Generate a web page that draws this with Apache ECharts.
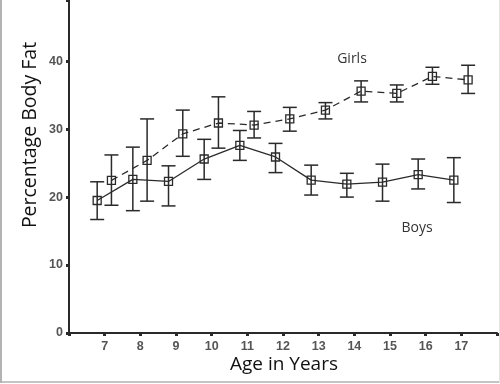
<!DOCTYPE html>
<html>
<head>
<meta charset="utf-8">
<script src="https://cdn.jsdelivr.net/npm/echarts@6/dist/echarts.min.js"></script>
<style>html,body{margin:0;padding:0;background:#fff;}#c{width:500px;height:384px;}</style>
</head>
<body>
<div id="c"></div>
<script>
var ages = [7, 8, 9, 10, 11, 12, 13, 14, 15, 16, 17];
var boysMean  = [19.5, 22.6, 22.3, 25.6, 27.6, 25.9, 22.5, 21.9, 22.2, 23.3, 22.5];
var boysUpper = [22.25, 27.35, 24.6, 28.5, 29.8, 27.9, 24.7, 23.5, 24.85, 25.6, 25.8];
var boysLower = [16.7, 18.0, 18.7, 22.6, 25.4, 23.6, 20.3, 20.0, 19.4, 21.2, 19.2];
var girlsMean  = [22.45, 25.4, 29.3, 30.9, 30.6, 31.5, 32.8, 35.6, 35.25, 37.75, 37.25];
var girlsUpper = [26.2, 31.5, 32.8, 34.75, 32.6, 33.2, 33.9, 37.1, 36.5, 39.1, 39.4];
var girlsLower = [18.8, 19.4, 26.0, 27.2, 28.7, 29.7, 31.5, 34.0, 34.0, 36.6, 35.25];
var yTicks = [0, 10, 20, 30, 40];
var boysOffset = -0.21, girlsOffset = 0.19;

var INK = '#2a2a2a';

function pts(mean, off) { return ages.map(function (a, i) { return [a + off, mean[i]]; }); }
function errs(lo, hi, off) { return ages.map(function (a, i) { return [a + off, lo[i], hi[i]]; }); }

function renderErr(params, api) {
  var x = api.value(0);
  var p1 = api.coord([x, api.value(1)]);
  var p2 = api.coord([x, api.value(2)]);
  var hw = 7;
  var st = { stroke: INK, lineWidth: 1.5 };
  return { type: 'group', children: [
    { type: 'line', shape: { x1: p1[0], y1: p1[1], x2: p2[0], y2: p2[1] }, style: st },
    { type: 'line', shape: { x1: p1[0] - hw, y1: p1[1], x2: p1[0] + hw, y2: p1[1] }, style: st },
    { type: 'line', shape: { x1: p2[0] - hw, y1: p2[1], x2: p2[0] + hw, y2: p2[1] }, style: st }
  ]};
}

var chart = echarts.init(document.getElementById('c'), null, { renderer: 'canvas' });
var tickFont = { color: '#555', fontSize: 12.5, fontWeight: 'bold', fontFamily: 'Liberation Sans, Arial, sans-serif' };
chart.setOption({
  animation: false,
  backgroundColor: '#fff',
  grid: { left: 69, right: 0, top: 0, bottom: 51 },
  xAxis: {
    type: 'value', min: 6, max: 18, interval: 1,
    axisLine: { show: true, lineStyle: { color: INK, width: 2 } },
    axisTick: { show: true, length: 3, lineStyle: { color: INK, width: 3 } },
    splitLine: { show: false },
    axisLabel: Object.assign({ margin: 7, formatter: function (v) { return ages.indexOf(v) >= 0 ? String(v) : ''; } }, tickFont)
  },
  yAxis: {
    type: 'value', min: 0, max: 49, interval: 10,
    axisLine: { show: true, lineStyle: { color: INK, width: 2 } },
    axisTick: { show: true, length: 3, lineStyle: { color: INK, width: 3 } },
    splitLine: { show: false },
    axisLabel: Object.assign({ margin: 6, formatter: function (v) { return yTicks.indexOf(v) >= 0 ? String(v) : ''; } }, tickFont)
  },
  series: [
    { type: 'custom', renderItem: renderErr, data: errs(boysLower, boysUpper, boysOffset), z: 2 },
    { type: 'custom', renderItem: renderErr, data: errs(girlsLower, girlsUpper, girlsOffset), z: 2 },
    { type: 'line', data: pts(boysMean, boysOffset), symbol: 'rect', symbolSize: 8, z: 3,
      lineStyle: { color: INK, width: 1.3 },
      itemStyle: { color: 'rgba(255,255,255,0)', borderColor: INK, borderWidth: 1.3 } },
    { type: 'line', data: pts(girlsMean, girlsOffset), symbol: 'rect', symbolSize: 8, z: 3,
      lineStyle: { color: INK, width: 1.3, type: [7, 5] },
      itemStyle: { color: 'rgba(255,255,255,0)', borderColor: INK, borderWidth: 1.3 } }
  ],
  graphic: [
    { type: 'text', rotation: Math.PI / 2, x: 30, y: 135,
      style: { text: 'Percentage Body Fat', font: '19.5px "Open Sans", sans-serif', fill: '#111', textAlign: 'center', textVerticalAlign: 'middle' } },
    { type: 'text', x: 284, y: 365,
      style: { text: 'Age in Years', font: '19px "Open Sans", sans-serif', fill: '#111', textAlign: 'center', textVerticalAlign: 'middle' } },
    { type: 'text', x: 352, y: 59,
      style: { text: 'Girls', font: '14px "Open Sans", sans-serif', fill: '#333', textAlign: 'center', textVerticalAlign: 'middle' } },
    { type: 'text', x: 417, y: 228,
      style: { text: 'Boys', font: '14px "Open Sans", sans-serif', fill: '#333', textAlign: 'center', textVerticalAlign: 'middle' } },
    { type: 'line', shape: { x1: 1, y1: 0, x2: 1, y2: 383 }, style: { stroke: '#9a9a9a', lineWidth: 1.5 } },
    { type: 'line', shape: { x1: 0, y1: 382, x2: 500, y2: 382 }, style: { stroke: '#b0b0b0', lineWidth: 1.5 } },
    { type: 'line', shape: { x1: 499.5, y1: 0, x2: 499.5, y2: 383 }, style: { stroke: '#e4e4e4', lineWidth: 1 } }
  ]
});
</script>
</body>
</html>
